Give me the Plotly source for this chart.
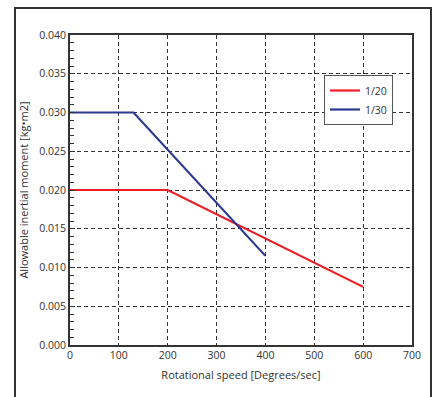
import plotly.graph_objects as go

speed_20 = [0, 200, 600]
moment_20 = [0.020, 0.020, 0.0075]
speed_30 = [0, 130, 400]
moment_30 = [0.030, 0.030, 0.0115]
series_names = ["1/20", "1/30"]

W, H = 434, 397
L, R, T, B = 70, 22, 35, 52
pw, ph = W - L - R, H - T - B

fig = go.Figure()
fig.add_trace(go.Scatter(x=speed_20, y=moment_20, mode="lines", name=series_names[0],
                         line=dict(color="#ee1c25", width=2.2)))
fig.add_trace(go.Scatter(x=speed_30, y=moment_30, mode="lines", name=series_names[1],
                         line=dict(color="#2b3990", width=2.2)))

font = "Open Sans, Noto Sans, sans-serif"
fig.update_layout(
    width=W, height=H,
    margin=dict(l=L, r=R, t=T, b=B),
    paper_bgcolor="white", plot_bgcolor="white",
    font=dict(family=font, size=10, color="#333"),
    showlegend=True,
    legend=dict(x=(324 - L) / pw, y=1 - (75 - T) / ph, xanchor="left", yanchor="top",
                bgcolor="white", bordercolor="#555", borderwidth=1,
                font=dict(size=10.5, color="#333"), tracegroupgap=0),
    xaxis=dict(range=[0, 700], dtick=100, showgrid=True, gridcolor="#333",
               griddash="4px,3px", gridwidth=1, showline=True, linecolor="#333",
               linewidth=1.6, mirror=True, ticks="", zeroline=False,
               title=dict(text="Rotational speed [Degrees/sec]", font=dict(size=11, color="#333"), standoff=10),
               tickfont=dict(size=10.5, color="#333")),
    yaxis=dict(range=[0, 0.040], dtick=0.005, tickformat=".3f", showgrid=True,
               gridcolor="#333", griddash="4px,3px", gridwidth=1, showline=True,
               linecolor="#333", linewidth=1.6, mirror=True, ticks="inside",
               ticklen=5, tickcolor="#333", zeroline=False,
               minor=dict(dtick=0.001, ticks="inside", ticklen=4, tickcolor="#333", showgrid=False),
               title=dict(text="Allowable inertial moment [kg\u2022m2]", font=dict(size=11, color="#333"), standoff=8),
               tickfont=dict(size=10.5, color="#333")),
)

# outer frame
fig.add_shape(type="rect", xref="paper", yref="paper",
              x0=(15 - L) / pw, x1=(431 - L) / pw,
              y0=1 - (405 - T) / ph, y1=1 - (8 - T) / ph,
              line=dict(color="#333", width=2), fillcolor="rgba(0,0,0,0)", layer="below")

fig.write_html("out.html")
